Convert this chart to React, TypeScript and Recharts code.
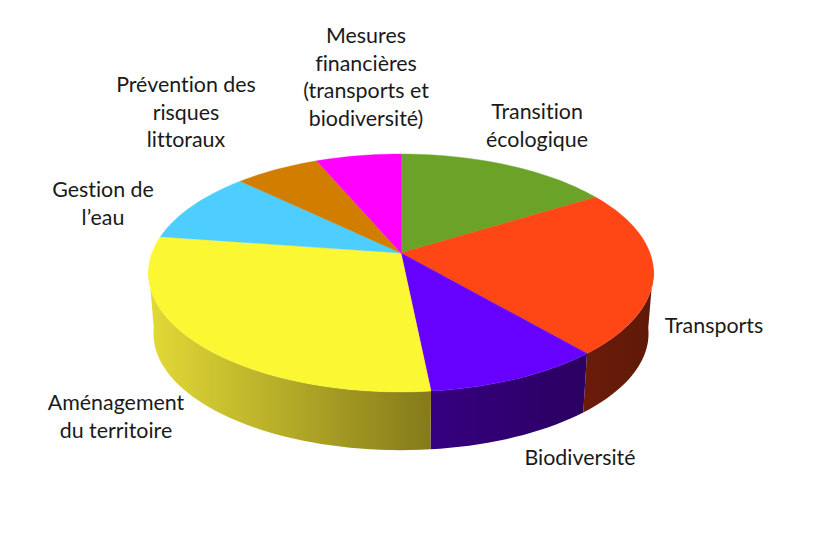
import { Pie, PieChart } from 'recharts'

const categories = [
  'Transition écologique',
  'Transports',
  'Biodiversité',
  'Aménagement du territoire',
  "Gestion de l’eau",
  'Prévention des risques littoraux',
  'Mesures financières (transports et biodiversité)',
]
const shares = [16.2, 22.5, 9.7, 28.9, 9.9, 6.4, 6.4]

const labelLines = [
  ['Transition', 'écologique'],
  ['Transports'],
  ['Biodiversité'],
  ['Aménagement', 'du territoire'],
  ['Gestion de', 'l’eau'],
  ['Prévention des', 'risques', 'littoraux'],
  ['Mesures', 'financières', '(transports et', 'biodiversité)'],
]
// centre x and first baseline of each label
const labelAnchors = [
  [537, 119],
  [714, 333],
  [580, 465],
  [116, 410],
  [103, 197],
  [186, 92],
  [366, 43],
]

const topColors = ['#6BA329', '#FF4716', '#6600FF', '#FBF733', '#4DCEFF', '#D17E00', '#FF00FF']
const wallStart = ['#3A5A16', '#6B1C08', '#360080', '#E2DA36', '#2A7088', '#70440A', '#880088']
const wallEnd = ['#3A5A16', '#5F1908', '#2A0060', '#847A1A', '#2A7088', '#70440A', '#880088']

const tableData = categories.map((name, i) => ({ name, value: shares[i], fill: topColors[i] }))

const WIDTH = 814
const HEIGHT = 542
const CX = 401
const CY = 253
const RADIUS = 249
const TILT = 0.168 // perspective strength
const FLATTEN = 115.6 // vertical radius at the hub
const DEPTH = 61
const BOTTOM_SCALE = 0.98

// project a point of the pie's rim, theta is clockwise from the top in degrees
function rim(theta: number, r: number) {
  const rad = (theta * Math.PI) / 180
  const u = Math.sin(rad)
  const v = -Math.cos(rad)
  const w = 1 - TILT * v
  return [(r * u) / w, (FLATTEN * (r / RADIUS) * v) / w]
}

function samples(from: number, to: number) {
  const out: number[] = []
  const n = Math.max(2, Math.ceil(Math.abs(to - from) / 2))
  for (let i = 0; i <= n; i++) out.push(from + ((to - from) * i) / n)
  return out
}

function Slice3D(props: any) {
  const { cx, cy, outerRadius, startAngle, endAngle, fill, index } = props
  const a = 90 - startAngle
  const b = 90 - endAngle
  const top = samples(a, b).map((t) => {
    const [x, y] = rim(t, outerRadius)
    return `${(cx + x).toFixed(2)},${(cy + y).toFixed(2)}`
  })
  const wa = Math.max(a, 97)
  const wb = Math.min(b, 263)
  let wall = null
  let grad = null
  if (wb > wa) {
    const ts = samples(wa, wb)
    const upper = ts.map((t) => {
      const [x, y] = rim(t, outerRadius)
      return `${(cx + x).toFixed(2)},${(cy + y).toFixed(2)}`
    })
    const lower = ts
      .slice()
      .reverse()
      .map((t) => {
        const [x, y] = rim(t, outerRadius)
        return `${(cx + x * BOTTOM_SCALE).toFixed(2)},${(cy + y * BOTTOM_SCALE + DEPTH).toFixed(2)}`
      })
    const id = `wall-${index}`
    grad = (
      <linearGradient id={id} x1="0" y1="0" x2="1" y2="0">
        <stop offset="0%" stopColor={wallStart[index]} />
        <stop offset="100%" stopColor={wallEnd[index]} />
      </linearGradient>
    )
    wall = <polygon points={[...upper, ...lower].join(' ')} fill={`url(#${id})`} stroke="none" />
  }
  return (
    <g>
      {grad && <defs>{grad}</defs>}
      {wall}
      <polygon points={[`${cx},${cy}`, ...top].join(' ')} fill={fill} stroke={fill} strokeWidth={0.4} />
    </g>
  )
}

function renderLabel(props: any) {
  const { index } = props
  const [x, y] = labelAnchors[index]
  return (
    <text
      key={index}
      x={x}
      y={y}
      textAnchor="middle"
      fontFamily="Lato"
      fontSize={21.4}
      fill="#1a1a1a"
      style={{ fontVariantLigatures: 'none' }}
    >
      {labelLines[index].map((line, i) => (
        <tspan key={i} x={x} y={y + i * 27.5}>
          {line}
        </tspan>
      ))}
    </text>
  )
}

export default function App() {
  return (
    <div style={{ position: 'absolute', left: 0, top: 0, width: WIDTH, height: HEIGHT, background: '#fff' }}>
      <PieChart width={WIDTH} height={HEIGHT} margin={{ top: 0, right: 0, bottom: 0, left: 0 }}>
        <Pie
          data={tableData}
          dataKey="value"
          nameKey="name"
          cx={CX}
          cy={CY}
          outerRadius={RADIUS}
          startAngle={90}
          endAngle={-270}
          stroke="none"
          label={renderLabel}
          labelLine={false}
          shape={Slice3D}
          isAnimationActive={false}
        />
      </PieChart>
    </div>
  )
}
